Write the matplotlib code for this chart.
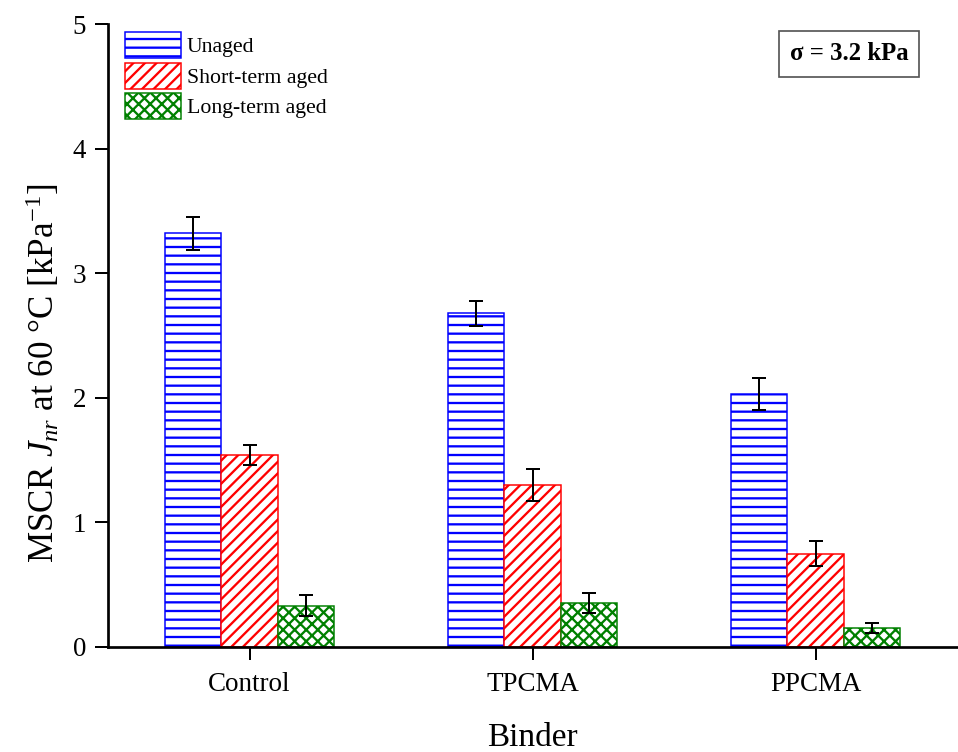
import numpy as np
import matplotlib
matplotlib.use('Agg')
import matplotlib.pyplot as plt

# data
binders = ['Control', 'TPCMA', 'PPCMA']
unaged = [3.32, 2.68, 2.03]
unaged_err = [0.13, 0.10, 0.13]
short_term = [1.54, 1.30, 0.75]
short_err = [0.08, 0.13, 0.10]
long_term = [0.33, 0.35, 0.15]
long_err = [0.085, 0.08, 0.04]

# dpi picked so the hatch spacing matches the reference
DPI = 104


def px(v):
    """pixels -> points at DPI"""
    return v * 72 / DPI


plt.rcParams['font.family'] = ['Liberation Serif', 'DejaVu Serif']
plt.rcParams['mathtext.fontset'] = 'custom'
plt.rcParams['mathtext.rm'] = 'Liberation Serif'
plt.rcParams['mathtext.it'] = 'Liberation Serif:italic'
plt.rcParams['hatch.linewidth'] = px(2.3)

fig = plt.figure(figsize=(958 / DPI, 752 / DPI), dpi=DPI)
ax = fig.add_axes([108 / 958, 1 - 647 / 752, 849 / 958, 623 / 752])

x = np.arange(len(binders))
w = 0.2
series = [
    (unaged, unaged_err, '#0000FF', '--', 'Unaged', -w),
    (short_term, short_err, '#FF0000', '///', 'Short-term aged', 0),
    (long_term, long_err, '#008000', 'xxx', 'Long-term aged', w),
]
for vals, errs, col, hatch, label, off in series:
    ax.bar(x + off, vals, w, color='white', edgecolor=col, hatch=hatch,
           linewidth=px(1.5), label=label, zorder=2)
    ax.errorbar(x + off, vals, yerr=errs, fmt='none', ecolor='black',
                elinewidth=px(2), capsize=px(7), capthick=px(2), zorder=3)

ax.set_xlim(-0.5, 2.5)
ax.set_ylim(0, 5)
ax.set_xticks(x)
ax.set_xticklabels(binders)
ax.set_yticks(range(6))
ax.tick_params(direction='out', length=px(13), width=px(2),
               labelsize=px(27))
ax.tick_params(axis='y', pad=px(9))
ax.tick_params(axis='x', pad=px(12))
for side in ['top', 'right']:
    ax.spines[side].set_visible(False)
for side in ['left', 'bottom']:
    ax.spines[side].set_linewidth(px(2.7))

ax.set_xlabel('Binder', fontsize=px(33.3), labelpad=px(25))
ax.set_ylabel(r'MSCR $J_{nr}$ at 60 °C [kPa$^{\mathrm{-1}}$]', fontsize=px(35))
ax.yaxis.set_label_coords(-0.054, 0.44)

ax.legend(loc='upper left', bbox_to_anchor=(17 / 849, 1 - 8 / 623),
          frameon=False, fontsize=px(21.7), handlelength=2.58,
          handleheight=1.47, handletextpad=0.28, labelspacing=0.21,
          borderpad=0, borderaxespad=0)

ax.text(849 / 958, 1 - 54 / 752, 'σ = 3.2 kPa', transform=fig.transFigure,
        ha='center', va='center', fontsize=px(24.8), fontweight='bold',
        bbox=dict(boxstyle='square,pad=0.45', facecolor='white',
                  edgecolor='#555555', linewidth=px(1.7)))

fig.savefig('out.png', dpi=DPI)
